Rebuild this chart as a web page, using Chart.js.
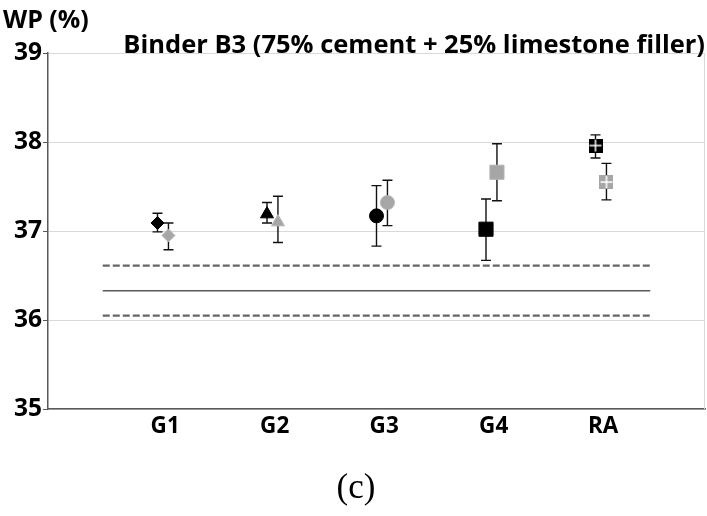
<!DOCTYPE html>
<html>
<head>
<meta charset="utf-8">
<script src="https://cdn.jsdelivr.net/npm/chart.js@4.4.1/dist/chart.umd.min.js"></script>
<style>
  body { margin: 0; background: #fff; }
  canvas { display: block; }
</style>
</head>
<body>
<canvas id="wp-chart" width="707" height="516"></canvas>
<script>
// Water permeability, binder B3
const groups = ['G1', 'G2', 'G3', 'G4', 'RA'];
const yTicks = [35, 36, 37, 38, 39];

const blackWP   = [37.09, 37.19, 37.17, 37.02, 37.96];
const blackHigh = [37.20, 37.32, 37.51, 37.36, 38.08];
const blackLow  = [36.99, 37.09, 36.83, 36.67, 37.82];

const greyWP    = [36.95, 37.10, 37.32, 37.66, 37.55];
const greyHigh  = [37.09, 37.39, 37.57, 37.98, 37.76];
const greyLow   = [36.79, 36.87, 37.06, 37.34, 37.35];

// reference band (mean and limits)
const refMean  = 36.33;
const refUpper = 36.61;
const refLower = 36.05;

const FONT = '"Open Sans", Lato, sans-serif';
const BLACK = '#000000';
const GREY = '#a6a6a6';

// square with a white cross for the RA points
function crossMarker(fill, size) {
    const c = document.createElement('canvas');
    c.width = size;
    c.height = size;
    const g = c.getContext('2d');
    g.fillStyle = fill;
    g.fillRect(0, 0, size, size);
    g.strokeStyle = '#ffffff';
    g.lineWidth = 1.5;
    g.beginPath();
    g.moveTo(size / 2, 1);
    g.lineTo(size / 2, size - 1);
    g.moveTo(1, size / 2);
    g.lineTo(size - 1, size / 2);
    g.stroke();
    return c;
}

const styles = ['rectRot', 'triangle', 'circle', 'rect', null];
const radii = [6.5, 7.5, 7, 10, 7];

const blackX = groups.map((g, i) => i + 1);
const greyX = groups.map((g, i) => i + 1.1);

const points = (xs, ys) => xs.map((x, i) => ({ x: x, y: ys[i] }));
const hline = v => [{ x: 0.5, y: v }, { x: 5.5, y: v }];

const errorBars = {
    id: 'errorBars',
    beforeDatasetsDraw(chart) {
        const { ctx, scales: { x, y } } = chart;
        ctx.save();
        ctx.strokeStyle = '#111';
        ctx.lineWidth = 1.4;
        const draw = (xs, lows, highs) => {
            xs.forEach((xv, i) => {
                const px = x.getPixelForValue(xv);
                const top = y.getPixelForValue(highs[i]);
                const bot = y.getPixelForValue(lows[i]);
                ctx.beginPath();
                ctx.moveTo(px, top);
                ctx.lineTo(px, bot);
                ctx.moveTo(px - 5, top);
                ctx.lineTo(px + 5, top);
                ctx.moveTo(px - 5, bot);
                ctx.lineTo(px + 5, bot);
                ctx.stroke();
            });
        };
        draw(blackX, blackLow, blackHigh);
        draw(greyX, greyLow, greyHigh);
        ctx.restore();
    }
};

const frameAndText = {
    id: 'frameAndText',
    afterDraw(chart) {
        const { ctx, chartArea: a } = chart;
        ctx.save();
        // light right edge of the frame
        ctx.strokeStyle = '#d9d9d9';
        ctx.lineWidth = 1;
        ctx.beginPath();
        ctx.moveTo(a.right - 0.5, a.top);
        ctx.lineTo(a.right - 0.5, a.bottom);
        ctx.stroke();

        ctx.fillStyle = '#000';
        ctx.textBaseline = 'alphabetic';
        ctx.font = 'bold 25px ' + FONT;
        ctx.textAlign = 'left';
        ctx.fillText('WP (%)', 3, 28);

        ctx.font = 'bold 25.5px ' + FONT;
        ctx.textAlign = 'right';
        ctx.fillText('Binder B3 (75% cement + 25% limestone filler)', 705, 53);

        ctx.font = '35px "Liberation Serif", "Times New Roman", serif';
        ctx.textAlign = 'center';
        ctx.fillText('(c)', 356, 498);
        ctx.restore();
    }
};

new Chart(document.getElementById('wp-chart'), {
    type: 'scatter',
    data: {
        datasets: [{
            data: points(blackX, blackWP),
            backgroundColor: BLACK,
            borderColor: BLACK,
            borderWidth: 1,
            pointStyle: styles.map(s => s || crossMarker(BLACK, 14)),
            pointRadius: radii
        }, {
            data: points(greyX, greyWP),
            backgroundColor: GREY,
            borderColor: '#b5b5b5',
            borderWidth: 1,
            pointStyle: styles.map(s => s || crossMarker(GREY, 14)),
            pointRadius: radii
        }, {
            data: hline(refUpper),
            showLine: true,
            borderColor: '#666666',
            borderWidth: 2.2,
            borderDash: [7, 3],
            pointRadius: 0
        }, {
            data: hline(refMean),
            showLine: true,
            borderColor: '#595959',
            borderWidth: 1.5,
            pointRadius: 0
        }, {
            data: hline(refLower),
            showLine: true,
            borderColor: '#666666',
            borderWidth: 2.2,
            borderDash: [7, 3],
            pointRadius: 0
        }]
    },
    options: {
        responsive: false,
        animation: false,
        layout: {
            autoPadding: false,
            padding: { top: 53, right: 2, left: 0, bottom: 0 }
        },
        plugins: {
            legend: { display: false },
            tooltip: { enabled: false },
            title: { display: false }
        },
        scales: {
            x: {
                type: 'linear',
                min: 0,
                max: 6,
                afterBuildTicks: s => { s.ticks = groups.map((g, i) => ({ value: i + 1.07 })); },
                afterFit: s => {
                    s.height = 107;
                    s.paddingLeft = 0;
                    s.paddingRight = 0;
                },
                grid: { display: false, drawTicks: false, tickLength: 0 },
                border: { color: '#595959', width: 1.5 },
                ticks: {
                    autoSkip: false,
                    maxRotation: 0,
                    padding: 4,
                    color: '#000',
                    font: { family: FONT, weight: 'bold', size: 22.5 },
                    callback: (v, i) => groups[i]
                }
            },
            y: {
                min: 35,
                max: 39,
                afterBuildTicks: s => { s.ticks = yTicks.map(v => ({ value: v })); },
                afterFit: s => { s.width = 48; },
                grid: { color: '#d9d9d9', lineWidth: 1, tickColor: '#595959', tickLength: 5 },
                border: { color: '#595959', width: 1.5 },
                ticks: {
                    padding: 1,
                    color: '#000',
                    font: { family: FONT, weight: 'bold', size: 24.5 }
                }
            }
        }
    },
    plugins: [errorBars, frameAndText]
});
</script>
</body>
</html>
